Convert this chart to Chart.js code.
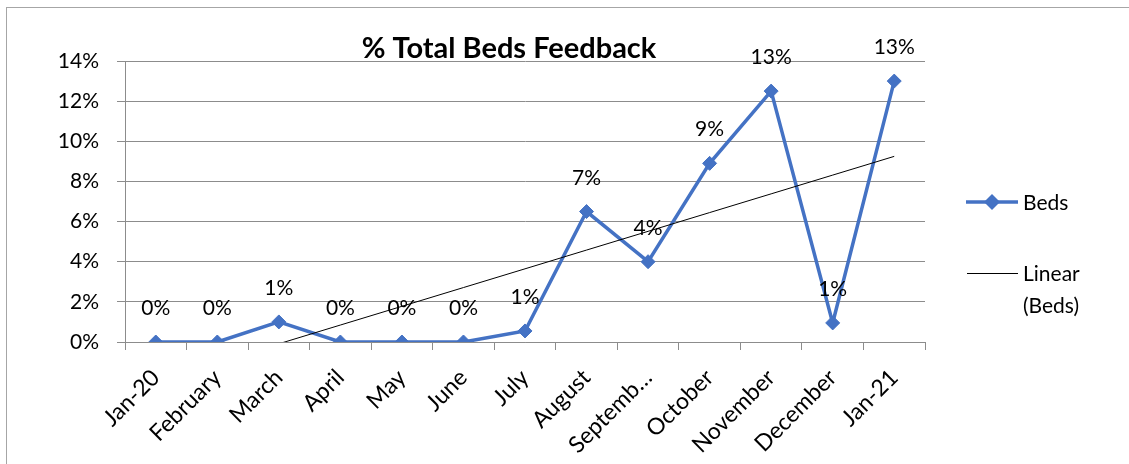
<!DOCTYPE html>
<html>
<head>
<meta charset="utf-8">
<title>% Total Beds Feedback</title>
<script src="https://cdn.jsdelivr.net/npm/chart.js@4.4.1/dist/chart.umd.min.js"></script>
<style>
  html, body { margin: 0; padding: 0; background: #ffffff; }
  #wrap { width: 1129px; height: 464px; position: relative; }
</style>
</head>
<body>
<div id="wrap"><canvas id="chart" width="1129" height="464"></canvas></div>
<script>
// Monthly share of total feedback about beds, in percent
const months = ['Jan-20', 'February', 'March', 'April', 'May', 'June', 'July',
                'August', 'Septemb…', 'October', 'November', 'December', 'Jan-21'];
const beds = [0, 0, 1.0, 0, 0, 0, 0.55, 6.5, 4.0, 8.9, 12.5, 0.95, 13.0];
const yTicks = [0, 2, 4, 6, 8, 10, 12, 14];

const chartTitle = '% Total Beds Feedback';
const seriesName = 'Beds';
const trendName = ['Linear', '(Beds)'];

// Least-squares linear trend through the series (x = 1..n)
function linearTrend(values) {
  const n = values.length;
  const xs = values.map((_, i) => i + 1);
  const mx = xs.reduce((a, b) => a + b, 0) / n;
  const my = values.reduce((a, b) => a + b, 0) / n;
  let sxy = 0, sxx = 0;
  xs.forEach((x, i) => { sxy += (x - mx) * (values[i] - my); sxx += (x - mx) * (x - mx); });
  const slope = sxy / sxx;
  return xs.map(x => my + slope * (x - mx));
}
const trend = linearTrend(beds);

const BLUE = '#4472C4';
const GRID = '#8c8c8c';
const FONT = 'Lato, "Open Sans", sans-serif';

// Outer frame, title, value labels and the legend
const decorations = {
  id: 'decorations',
  beforeDraw(chart) {
    const ctx = chart.ctx;
    ctx.save();
    ctx.fillStyle = '#ffffff';
    ctx.fillRect(0, 0, chart.width, chart.height);
    ctx.strokeStyle = '#a6a6a6';
    ctx.lineWidth = 1;
    ctx.strokeRect(6.5, 7.5, chart.width + 20, chart.height + 20);
    ctx.restore();
  },
  afterDatasetsDraw(chart) {
    const ctx = chart.ctx;
    const area = chart.chartArea;
    ctx.save();

    // value labels above each point
    const meta = chart.getDatasetMeta(0);
    ctx.font = '21px ' + FONT;
    ctx.fillStyle = '#000000';
    ctx.textAlign = 'center';
    ctx.textBaseline = 'alphabetic';
    meta.data.forEach((pt, i) => {
      ctx.fillText(Math.round(beds[i]) + '%', pt.x, pt.y - 27);
    });

    // title
    ctx.font = 'bold 29px ' + FONT;
    ctx.fillText(chartTitle, area.left + area.width * 0.48, area.top - 3);

    // legend
    const lx = area.right + 41;
    const ly = area.top + 141;
    ctx.strokeStyle = BLUE;
    ctx.lineWidth = 3.5;
    ctx.beginPath();
    ctx.moveTo(lx, ly);
    ctx.lineTo(lx + 52, ly);
    ctx.stroke();
    ctx.fillStyle = BLUE;
    ctx.beginPath();
    ctx.moveTo(lx + 26 - 8, ly);
    ctx.lineTo(lx + 26, ly - 8);
    ctx.lineTo(lx + 26 + 8, ly);
    ctx.lineTo(lx + 26, ly + 8);
    ctx.closePath();
    ctx.fill();

    ctx.strokeStyle = '#000000';
    ctx.lineWidth = 1;
    ctx.beginPath();
    ctx.moveTo(lx + 1, ly + 71.5);
    ctx.lineTo(lx + 52, ly + 71.5);
    ctx.stroke();

    ctx.fillStyle = '#000000';
    ctx.font = '21px ' + FONT;
    ctx.textAlign = 'left';
    ctx.textBaseline = 'middle';
    ctx.fillText(seriesName, lx + 57, ly + 1);
    ctx.fillText(trendName[0], lx + 57, ly + 72);
    ctx.fillText(trendName[1], lx + 57, ly + 104);
    ctx.restore();
  }
};

new Chart(document.getElementById('chart'), {
  type: 'line',
  data: {
    labels: months,
    datasets: [
      {
        label: seriesName,
        data: beds,
        borderColor: BLUE,
        backgroundColor: BLUE,
        borderWidth: 3.5,
        pointStyle: 'rectRot',
        pointRadius: 7,
        pointBorderWidth: 1,
        pointBackgroundColor: BLUE,
        pointBorderColor: BLUE,
        tension: 0,
        order: 2
      },
      {
        label: 'Linear (Beds)',
        data: trend,
        borderColor: '#000000',
        borderWidth: 1,
        pointRadius: 0,
        tension: 0,
        order: 1
      }
    ]
  },
  options: {
    responsive: false,
    animation: false,
    devicePixelRatio: 1,
    layout: { padding: { left: 0, right: 204, top: 61, bottom: 0 } },
    plugins: {
      legend: { display: false },
      title: { display: false },
      tooltip: { enabled: false }
    },
    scales: {
      x: {
        type: 'category',
        offset: true,
        grid: {
          offset: true,
          drawOnChartArea: false,
          drawTicks: true,
          tickLength: 8,
          color: GRID
        },
        border: { display: true, color: GRID },
        ticks: {
          color: '#000000',
          font: { family: FONT, size: 23 },
          minRotation: 45,
          maxRotation: 45,
          autoSkip: false,
          padding: 14
        },
        afterFit(scale) { scale.height = 122; }
      },
      y: {
        min: 0,
        max: 14,
        afterBuildTicks(scale) { scale.ticks = yTicks.map(v => ({ value: v })); },
        grid: { color: GRID, tickLength: 8, drawTicks: true },
        border: { display: true, color: GRID },
        ticks: {
          color: '#000000',
          font: { family: FONT, size: 21 },
          padding: 18,
          callback: v => v + '%'
        },
        afterFit(scale) { scale.width = 125; }
      }
    }
  },
  plugins: [decorations]
});
</script>
</body>
</html>
